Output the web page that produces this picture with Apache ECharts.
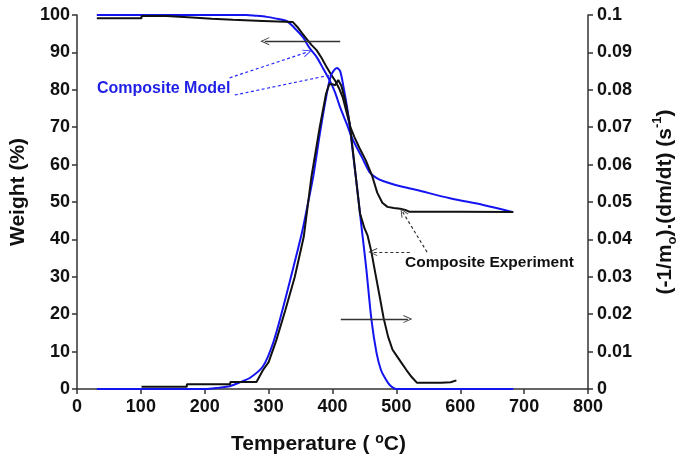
<!DOCTYPE html>
<html>
<head>
<meta charset="utf-8">
<script src="https://cdn.jsdelivr.net/npm/echarts@6/dist/echarts.min.js"></script>
<style>
  html, body { margin: 0; padding: 0; background: #fff; }
  #chart { width: 687px; height: 463px; }
</style>
</head>
<body>
<div id="chart"></div>
<script>
// weight curves (left axis, %) as [temperature, weight]
var expWeight = [
  [31, 99.1], [101, 99.1], [101, 99.7], [140, 99.7], [140, 99.4], [174, 99.4], [174, 99.0],
  [211, 99.0], [211, 98.7], [244, 98.7], [244, 98.4], [291, 98.4], [291, 98.2], [338, 98.1],
  [345, 96.8], [352, 95.2], [360, 93.5], [367, 92], [375, 90.6], [383, 88.5], [391, 86],
  [398, 84], [404, 82.5], [410, 80.5], [416, 78], [422, 74], [428, 70], [434, 67.5],
  [442, 64.5], [452, 61.2], [462, 57], [470, 52.5], [478, 49.8], [486, 48.7], [496, 48.4],
  [506, 48.2], [514, 47.9], [520, 47.4], [600, 47.4], [683, 47.3]
];
var modelWeight = [
  [31, 100], [265, 100], [280, 99.8], [297, 99.5], [310, 99.1], [328, 98.4], [340, 96.6],
  [354, 94], [364, 91.2], [375, 88.8], [386, 85.5], [396, 82.4], [404, 79.3], [412, 75.3],
  [422, 71], [432, 66.6], [446, 62], [458, 58], [468, 56.5], [479, 55.6], [500, 54.5],
  [532, 53.2], [584, 51], [636, 49.2], [683, 47.3]
];
// derivative curves (right axis, 1/s) as [temperature, rate]
var expDeriv = [
  [101, 0.0006], [172, 0.0006], [172, 0.0013], [240, 0.0013], [240, 0.0019], [281, 0.0019],
  [291, 0.005], [300, 0.0072], [312, 0.013], [326, 0.021], [341, 0.030], [355, 0.0407],
  [367, 0.0567], [380, 0.070], [390, 0.079], [395, 0.0815], [400, 0.0815], [404, 0.0812],
  [409, 0.0826], [414, 0.081], [420, 0.077], [427, 0.071], [435, 0.059], [443, 0.047],
  [450, 0.043], [455, 0.041], [461, 0.0366], [467, 0.031], [474, 0.0246], [480, 0.019],
  [487, 0.014], [494, 0.0105], [500, 0.009], [508, 0.007], [516, 0.005], [524, 0.0032],
  [532, 0.0017], [570, 0.0017], [585, 0.0018], [594, 0.0023]
];
var modelDeriv = [
  [31, 0], [200, 0], [220, 0.0003], [240, 0.0008], [255, 0.0018], [271, 0.003], [291, 0.006],
  [307, 0.0123], [323, 0.022], [339, 0.0327], [352, 0.0417], [362, 0.05], [370, 0.057],
  [380, 0.068], [390, 0.078], [398, 0.084], [407, 0.0858], [412, 0.085], [418, 0.080],
  [424, 0.074], [430, 0.066], [437, 0.056], [446, 0.0425], [453, 0.032], [461, 0.0185],
  [469, 0.0096], [476, 0.005], [482, 0.003], [490, 0.001], [500, 0], [683, 0]
];
// annotation lines, in [temperature, weight] units
var arrowLeft = [[412, 93], [294, 93]];
var arrowRight = [[413, 18.7], [518, 18.7]];
var modelPointers = [[[239, 83.2], [361, 90.1]], [[247, 78.6], [398, 84]]];
var expPointers = [[[521, 36.6], [463, 36.6]], [[548, 36.6], [510, 47.3]]];

var font = 'Arial, "Liberation Sans", sans-serif';
var openArrow = 'path://M0,0 L6,11 L4.6,11 L0,2.6 L-4.6,11 L-6,11 Z';

function lineMark(pairs, color, dash, heads) {
  return {
    silent: true,
    animation: false,
    symbol: ['none', 'none'],
    label: { show: false },
    lineStyle: { color: color, width: 1.3, type: 'solid' },
    data: pairs.map(function (p, i) {
      var style = { color: color, width: dash[i] ? 1.2 : 1.3, type: dash[i] ? [3, 2.5] : 'solid' };
      return [
        { coord: p[0], symbol: 'none', lineStyle: style },
        { coord: p[1], symbol: heads[i] ? openArrow : 'none', symbolSize: [8, 9] }
      ];
    })
  };
}

var chart = echarts.init(document.getElementById('chart'));

var axisCommon = {
  axisLine: { show: true, lineStyle: { color: '#333', width: 1.5 } },
  axisTick: { show: true, length: 5, lineStyle: { color: '#333', width: 1.5 } },
  splitLine: { show: false },
  axisLabel: { color: '#111', fontFamily: font, fontWeight: 'bold', fontSize: 18 }
};

var option = {
  animation: false,
  backgroundColor: '#fff',
  grid: { left: 77, right: 99, top: 15, bottom: 74, outerBoundsMode: 'none' },
  xAxis: Object.assign({
    type: 'value', min: 0, max: 800, interval: 100,
    name: '{t|Temperature ( }{sup|o}{t|C)}',
    nameLocation: 'middle', nameGap: 43,
    nameTextStyle: {
      padding: [0, 28, 0, 0],
      rich: {
        t: { fontFamily: font, fontWeight: 'bold', fontSize: 21, color: '#111', lineHeight: 25 },
        sup: { fontFamily: font, fontWeight: 'bold', fontSize: 14, color: '#111', verticalAlign: 'top', lineHeight: 25 }
      }
    }
  }, axisCommon, { axisLabel: Object.assign({}, axisCommon.axisLabel, { margin: 9 }) }),
  yAxis: [
    Object.assign({
      type: 'value', min: 0, max: 100, interval: 10, position: 'left',
      name: 'Weight (%)', nameLocation: 'middle', nameGap: 41,
      nameTextStyle: { fontFamily: font, fontWeight: 'bold', fontSize: 21, color: '#111', padding: [0, 0, 0, 20] }
    }, axisCommon, { axisLabel: Object.assign({}, axisCommon.axisLabel, { margin: 7 }) }),
    Object.assign({
      type: 'value', min: 0, max: 0.1, interval: 0.01, position: 'right',
      name: '{t|(-1/m}{sub|o}{t|).(dm/dt) (s}{sup|-1}{t|)}',
      nameLocation: 'middle', nameGap: 63, nameRotate: 90,
      nameTextStyle: {
        rich: {
          t: { fontFamily: font, fontWeight: 'bold', fontSize: 21, color: '#111', lineHeight: 28 },
          sub: { fontFamily: font, fontWeight: 'bold', fontSize: 13, color: '#111', verticalAlign: 'bottom', lineHeight: 28 },
          sup: { fontFamily: font, fontWeight: 'bold', fontSize: 13, color: '#111', verticalAlign: 'top', lineHeight: 28 }
        }
      }
    }, axisCommon, {
      axisLabel: Object.assign({}, axisCommon.axisLabel, {
        margin: 9,
        formatter: function (v) { return String(+v.toFixed(2)); }
      })
    })
  ],
  graphic: [
    {
      type: 'text', left: 97, top: 81,
      style: { text: 'Composite Model', fill: '#1f1fe6', font: 'bold 16px ' + font }
    },
    {
      type: 'text', left: 405, top: 255,
      style: { text: 'Composite Experiment', fill: '#111', font: 'bold 15.5px ' + font }
    }
  ],
  series: [
    {
      name: 'Model weight', type: 'line', yAxisIndex: 0, data: modelWeight,
      showSymbol: false, smooth: 0.3, lineStyle: { color: '#1414f0', width: 2 },
      markLine: lineMark(modelPointers, '#2a2aff', [true, true], [true, false])
    },
    {
      name: 'Experiment weight', type: 'line', yAxisIndex: 0, data: expWeight,
      showSymbol: false, lineStyle: { color: '#111', width: 2 },
      markLine: lineMark([arrowLeft, arrowRight].concat(expPointers), '#333',
        [false, false, true, true], [true, true, true, true])
    },
    {
      name: 'Model rate', type: 'line', yAxisIndex: 1, data: modelDeriv,
      showSymbol: false, smooth: 0.3, lineStyle: { color: '#1414f0', width: 2 }
    },
    {
      name: 'Experiment rate', type: 'line', yAxisIndex: 1, data: expDeriv,
      showSymbol: false, lineStyle: { color: '#111', width: 2 }
    }
  ]
};

chart.setOption(option);
</script>
</body>
</html>
